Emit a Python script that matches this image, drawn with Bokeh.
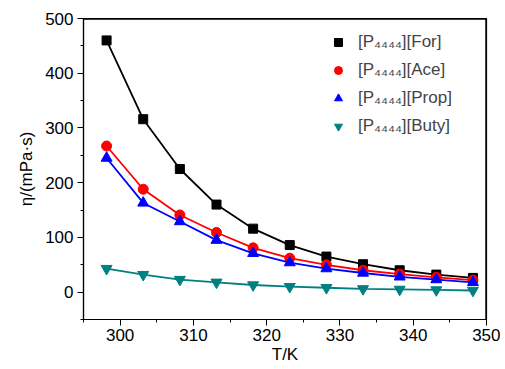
from bokeh.plotting import figure
from bokeh.models import Range1d, Legend, LegendItem, FixedTicker
from bokeh.embed import file_html
from bokeh.resources import INLINE

T = [298.15, 303.15, 308.15, 313.15, 318.15, 323.15, 328.15, 333.15, 338.15, 343.15, 348.15]
eta_for = [460, 316, 225, 160, 116, 86, 65, 51, 40, 32, 26]
eta_ace = [267, 188, 141, 109, 81, 62, 50, 40, 33, 27, 22]
eta_prop = [245, 163, 129, 95, 71, 54, 43, 35, 28, 23, 18]
eta_buty = [43, 32, 23, 18, 13, 10, 8, 6, 5, 4, 3]
names = ["[P\u2084\u2084\u2084\u2084][For]", "[P\u2084\u2084\u2084\u2084][Ace]",
         "[P\u2084\u2084\u2084\u2084][Prop]", "[P\u2084\u2084\u2084\u2084][Buty]"]
x_ticks = [300, 310, 320, 330, 340, 350]
y_ticks = [0, 100, 200, 300, 400, 500]
x_lim = (295, 350)
y_lim = (-50, 500)

FONT = "Liberation Sans"

p = figure(width=500, height=369, output_backend="svg", toolbar_location=None,
           x_range=Range1d(*x_lim), y_range=Range1d(*y_lim),
           min_border_left=83, min_border_top=18, min_border_right=14, min_border_bottom=50)
p.xgrid.visible = False
p.ygrid.visible = False
p.outline_line_color = "black"
p.outline_line_width = 1.2
p.background_fill_color = "white"

xax = p.below[0]
yax = p.left[0]
for ax in (xax, yax):
    ax.major_label_text_font = FONT
    ax.major_label_text_font_size = "17px"
    ax.axis_label_text_font = FONT
    ax.axis_label_text_font_size = "17px"
    ax.axis_label_text_font_style = "normal"
    ax.major_tick_out = 6
    ax.major_tick_in = 0
    ax.minor_tick_out = 3
    ax.minor_tick_in = 0
    ax.axis_line_color = "black"
    ax.axis_line_width = 1.2
    ax.major_tick_line_color = "black"
    ax.minor_tick_line_color = "black"
    ax.major_label_text_color = "black"
    ax.axis_label_text_color = "black"

xax.ticker = FixedTicker(ticks=x_ticks, minor_ticks=[295, 305, 315, 325, 335, 345])
yax.ticker = FixedTicker(ticks=y_ticks, minor_ticks=[-50, 50, 150, 250, 350, 450])
xax.axis_label = "T/K"
yax.axis_label = "\u03b7/(mPa\u00b7s)"
xax.major_label_standoff = 3
yax.major_label_standoff = 4
xax.axis_label_standoff = 1
yax.axis_label_standoff = 6

# top and right frame lines along the range limits
p.line([x_lim[0], x_lim[1], x_lim[1]], [y_lim[1], y_lim[1], y_lim[0]],
       line_color="black", line_width=2.4)

series = [
    (eta_for, "black", "square", 9),
    (eta_ace, "#ff0000", "circle", 10),
    (eta_prop, "#0000ff", "triangle", 11),
    (eta_buty, "#008080", "inverted_triangle", 11),
]
items = []
for (vals, col, mk, sz), name in zip(series, names):
    p.line(T, vals, line_color=col, line_width=1.8)
    r = p.scatter(T, vals, marker=mk, size=sz, fill_color=col, line_color=col)
    items.append(LegendItem(label=name, renderers=[r]))

leg = Legend(items=items, location=(245, 183), border_line_color=None,
             background_fill_alpha=0, padding=5, spacing=8, glyph_width=20,
             glyph_height=20, label_standoff=10, label_text_font=FONT,
             label_text_font_size="17px")
p.add_layout(leg, "center")

open("out.html", "w").write(file_html(p, INLINE))
